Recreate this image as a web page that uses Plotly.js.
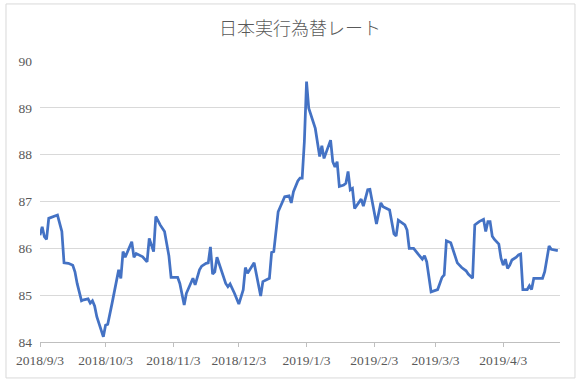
<!DOCTYPE html>
<html>
<head>
<meta charset="utf-8">
<script src="https://cdn.plot.ly/plotly-3.0.1.min.js"></script>
<style>
html,body{margin:0;padding:0;background:#fff;}
#chart{width:581px;height:381px;}
</style>
</head>
<body>
<div id="chart"></div>
<script>
const chartTitle = "日本実行為替レート";

const dates = [
"2018-09-03","2018-09-04","2018-09-05","2018-09-06","2018-09-07","2018-09-09","2018-09-11","2018-09-13","2018-09-14","2018-09-16",
"2018-09-18","2018-09-19","2018-09-20","2018-09-22","2018-09-23","2018-09-25","2018-09-26","2018-09-27","2018-09-28","2018-09-29",
"2018-10-02","2018-10-03","2018-10-04","2018-10-06","2018-10-09","2018-10-10","2018-10-11","2018-10-12","2018-10-15","2018-10-16",
"2018-10-17","2018-10-20","2018-10-22","2018-10-23","2018-10-25","2018-10-26","2018-10-28","2018-10-30","2018-11-01","2018-11-02",
"2018-11-05","2018-11-06","2018-11-08","2018-11-09","2018-11-12","2018-11-13","2018-11-15","2018-11-16","2018-11-18","2018-11-19",
"2018-11-20","2018-11-21","2018-11-22","2018-11-23","2018-11-26","2018-11-27","2018-11-28","2018-11-29","2018-12-01","2018-12-03",
"2018-12-05","2018-12-06","2018-12-07","2018-12-10","2018-12-13","2018-12-14","2018-12-17","2018-12-18","2018-12-19","2018-12-21",
"2018-12-24","2018-12-26","2018-12-27","2018-12-28","2018-12-30","2018-12-31","2019-01-01","2019-01-02","2019-01-03","2019-01-04",
"2019-01-07","2019-01-09","2019-01-10","2019-01-11","2019-01-14","2019-01-15","2019-01-16","2019-01-17","2019-01-18","2019-01-20",
"2019-01-21","2019-01-22","2019-01-23","2019-01-24","2019-01-25","2019-01-28","2019-01-29","2019-01-31","2019-02-01","2019-02-04",
"2019-02-06","2019-02-07","2019-02-10","2019-02-12","2019-02-13","2019-02-14","2019-02-17","2019-02-18","2019-02-19","2019-02-21",
"2019-02-23","2019-02-25","2019-02-26","2019-02-27","2019-03-01","2019-03-02","2019-03-04","2019-03-05","2019-03-06","2019-03-07",
"2019-03-08","2019-03-10","2019-03-13","2019-03-15","2019-03-17","2019-03-18","2019-03-20","2019-03-21","2019-03-23","2019-03-25",
"2019-03-26","2019-03-27","2019-03-28","2019-03-29","2019-03-30","2019-04-01","2019-04-02","2019-04-03","2019-04-04","2019-04-05",
"2019-04-06","2019-04-07","2019-04-09","2019-04-10","2019-04-11","2019-04-12","2019-04-14","2019-04-15","2019-04-16","2019-04-17",
"2019-04-21","2019-04-22","2019-04-24","2019-04-25","2019-04-28"
];

const rates = [
86.28,86.46,86.25,86.19,86.64,86.68,86.71,86.36,85.69,85.68,
85.64,85.50,85.25,84.88,84.90,84.92,84.83,84.88,84.77,84.54,
84.11,84.36,84.38,84.83,85.54,85.36,85.93,85.81,86.14,85.81,
85.89,85.82,85.71,86.21,85.93,86.68,86.50,86.36,85.84,85.38,
85.38,85.25,84.79,85.04,85.36,85.22,85.54,85.62,85.68,85.69,
86.03,85.45,85.50,85.81,85.40,85.25,85.18,85.24,85.04,84.81,
85.11,85.59,85.47,85.69,84.98,85.29,85.36,85.91,85.93,86.78,
87.10,87.12,86.97,87.21,87.44,87.50,87.50,88.28,89.56,88.99,
88.56,87.96,88.19,87.92,88.31,87.85,87.74,87.85,87.32,87.35,
87.39,87.64,87.25,87.28,86.85,87.05,86.90,87.25,87.26,86.52,
86.97,86.89,86.82,86.31,86.26,86.60,86.50,86.39,86.00,86.00,
85.88,85.77,85.84,85.71,85.07,85.09,85.12,85.25,85.38,85.43,
86.16,86.12,85.69,85.59,85.52,85.45,85.36,86.50,86.57,86.62,
86.36,86.57,86.57,86.26,86.19,86.09,85.79,85.64,85.77,85.57,
85.64,85.75,85.81,85.86,85.88,85.12,85.12,85.20,85.12,85.36,
85.36,85.50,86.05,85.98,85.95
];

const tickDates = ["2018-09-03","2018-10-03","2018-11-03","2018-12-03","2019-01-03","2019-02-03","2019-03-03","2019-04-03"];
const tickLabels = ["2018/9/3","2018/10/3","2018/11/3","2018/12/3","2019/1/3","2019/2/3","2019/3/3","2019/4/3"];
const yTicks = [84,85,86,87,88,89,90];

const trace = {
  x: dates,
  y: rates,
  type: "scatter",
  mode: "lines",
  line: {color: "#4472C4", width: 2.75},
  hoverinfo: "x+y"
};

const layout = {
  width: 581,
  height: 381,
  margin: {l: 40, r: 21, t: 61, b: 39},
  paper_bgcolor: "#ffffff",
  plot_bgcolor: "#ffffff",
  showlegend: false,
  title: {
    text: chartTitle,
    x: 0.5, xref: "paper", xanchor: "center",
    y: 0.925, yref: "container", yanchor: "middle",
    font: {family: "Noto Sans CJK JP", size: 18, color: "#595959", weight: 300}
  },
  xaxis: {
    type: "date",
    range: ["2018-09-03", "2019-04-29"],
    tickmode: "array",
    tickvals: tickDates,
    ticktext: tickLabels,
    ticks: "outside",
    ticklen: 4,
    tickcolor: "#BFBFBF",
    showline: true,
    linecolor: "#BFBFBF",
    linewidth: 1,
    showgrid: false,
    zeroline: false,
    ticklabelstandoff: 2,
    tickfont: {family: "Liberation Serif", size: 13.5, color: "#595959"}
  },
  yaxis: {
    range: [84, 90],
    tickmode: "array",
    tickvals: yTicks,
    showgrid: true,
    gridcolor: "#D9D9D9",
    gridwidth: 1,
    showline: false,
    zeroline: false,
    ticks: "",
    ticklabelstandoff: 7,
    tickfont: {family: "Liberation Serif", size: 13.5, color: "#595959"}
  },
  shapes: [{
    type: "rect", xref: "paper", yref: "paper",
    x0: -0.0654, x1: 1.0288, y0: -0.128, y1: 1.203,
    line: {color: "#D9D9D9", width: 1},
    fillcolor: "rgba(0,0,0,0)",
    layer: "below"
  }]
};

Plotly.newPlot("chart", [trace], layout, {displayModeBar: false, staticPlot: true});
</script>
</body>
</html>
